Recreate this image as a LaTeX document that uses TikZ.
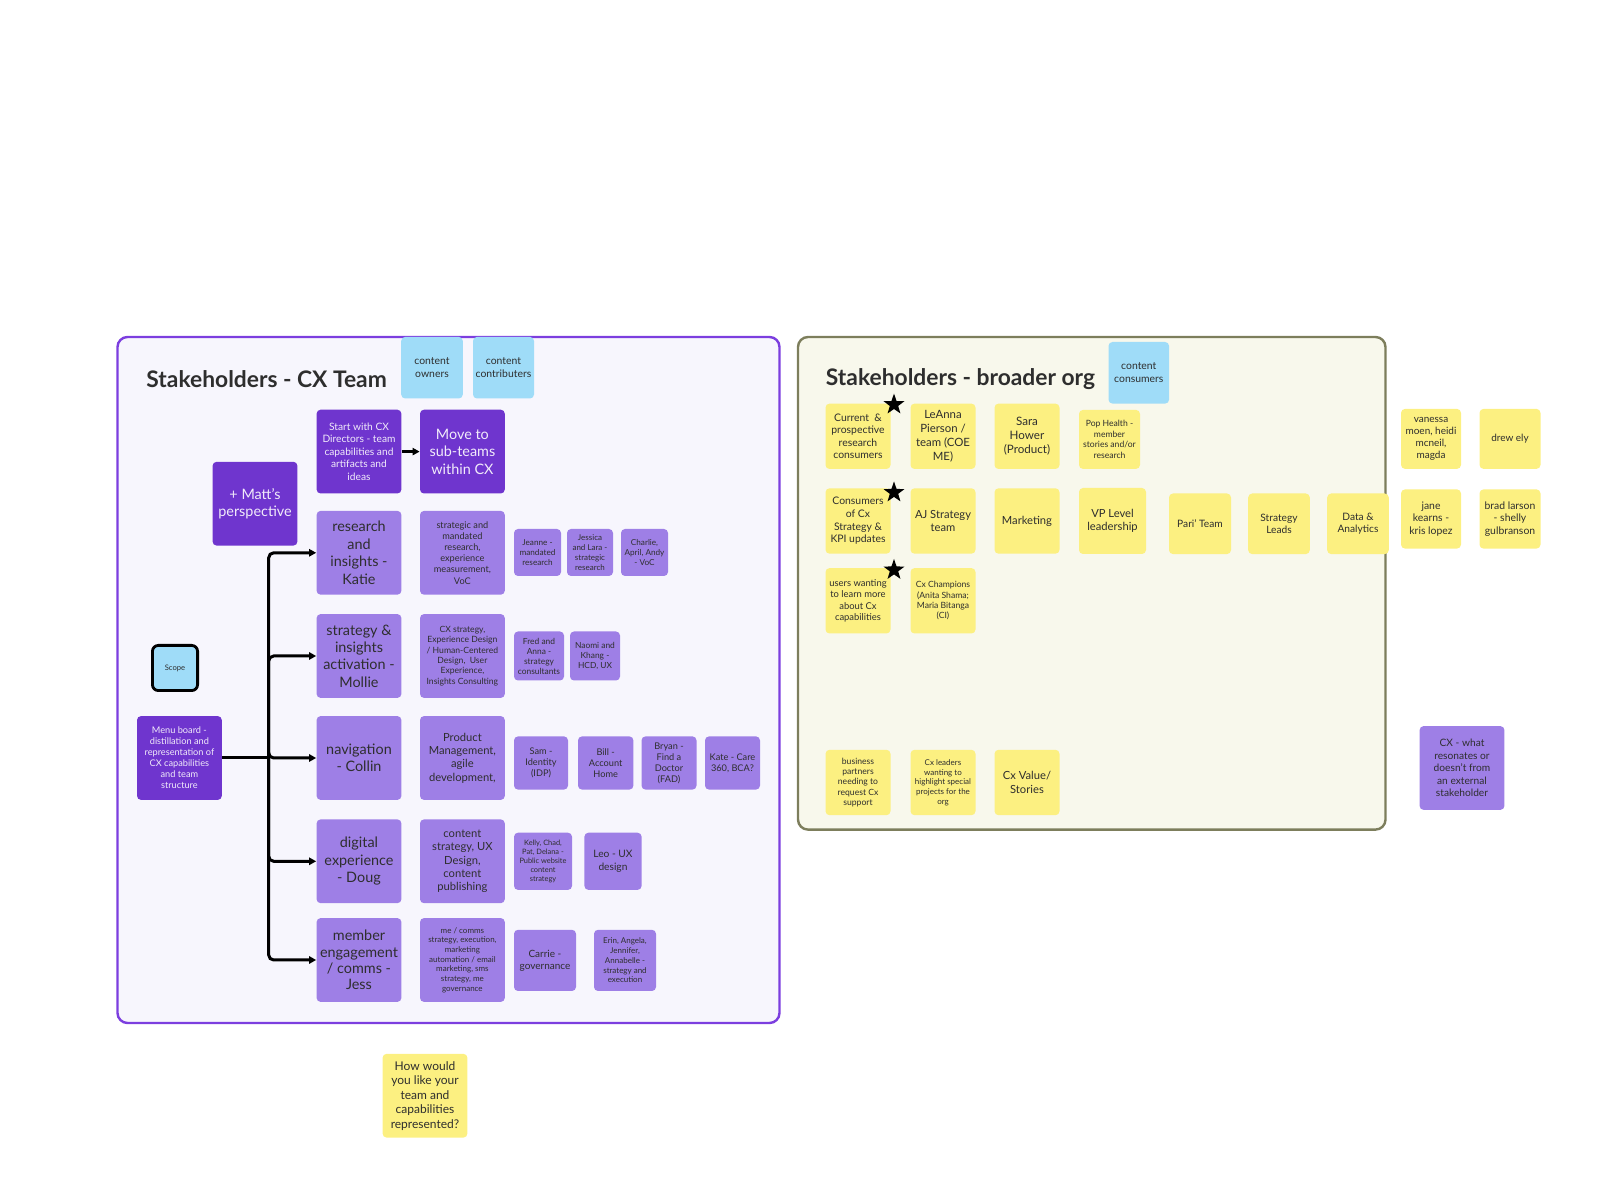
\documentclass[tikz,border=0pt]{standalone}
\usepackage{fontspec}
\setmainfont{Lato}
\usetikzlibrary{arrows.meta,shapes.geometric}

\definecolor{deep}{HTML}{6F35CE}
\definecolor{lilac}{HTML}{9E7FE6}
\definecolor{sky}{HTML}{9FDCF8}
\definecolor{sticky}{HTML}{FCF081}
\definecolor{ink}{HTML}{2E2E2E}
\definecolor{teamline}{HTML}{7C3EDF}
\definecolor{teamfill}{HTML}{F7F6FD}
\definecolor{orgline}{HTML}{7D7E5C}
\definecolor{orgfill}{HTML}{F8F8EC}

\begin{document}
\begin{tikzpicture}[x=0.5pt,y=-0.5pt,
 note/.style={rounded corners=2pt,inner sep=1pt,align=center,text=ink},
 fs/.style 2 args={font=\fontsize{#1}{#2}\selectfont},
 wh/.style 2 args={minimum width=#1pt,minimum height=#2pt},
 dk/.style={note,fill=deep,text=white!90!deep},
 lt/.style={note,fill=lilac},
 bl/.style={note,fill=sky},
 yl/.style={note,fill=sticky},
 big/.style={wh={42.4}{41.9}},
 sticker/.style={wh={32.5}{32.7}},
 title/.style={anchor=west,inner sep=0pt,text=ink,font=\bfseries\fontsize{11.4}{13}\selectfont},
 wire/.style={line width=1.5pt,black},
 tip/.style={-{Triangle[length=3.5pt,width=3.6pt]}},
 starmark/.style={star,star points=5,star point ratio=2.5,fill=black,inner sep=0pt,minimum size=11pt}
]
\useasboundingbox (0,0) rectangle (1602,1202);

% frames
\draw[teamline,fill=teamfill,line width=1.2pt,rounded corners=5pt] (117.5,337) rectangle (779.5,1023);
\draw[orgline,fill=orgfill,line width=1.2pt,rounded corners=5pt] (798,337) rectangle (1385.5,829.6);
\node[title] (teamtitle) at (146,379) {Stakeholders - CX Team};
\node[title] (orgtitle) at (825.5,379) {Stakeholders - broader org};

% CX team board
\node[bl,wh={30.8}{30.8},fs={5.2}{6.3}] (owners) at (432,367.7) {content\\owners};
\node[bl,wh={30.5}{30.8},fs={5.2}{6.3}] (contrib) at (503.5,367.7) {content\\contributers};
\node[dk,big,fs={5.1}{6.2}] (start) at (359,451.6) {Start with CX\\Directors - team\\capabilities and\\artifacts and\\ideas};
\node[dk,big,fs={7.2}{8.7}] (move) at (462.4,451.6) {Move to\\sub-teams\\within CX};
\node[dk,big,fs={7.2}{8.4}] (matt) at (255,503.7) {+ Matt's\\perspective};

\node[lt,big,fs={7.2}{8.7}] (katie) at (359,552.8) {research\\and\\insights -\\Katie};
\node[lt,big,fs={4.6}{5.6}] (research) at (462.4,552.8) {strategic and\\mandated\\research,\\experience\\measurement,\\VoC};
\node[lt,wh={23.5}{23.5},fs={4.1}{5}] (jeanne) at (537.5,552.5) {Jeanne -\\mandated\\research};
\node[lt,wh={23}{23.5},fs={4}{4.9}] (jessica) at (590,552.5) {Jessica\\and Lara -\\strategic\\research};
\node[lt,wh={23.5}{23.5},fs={4.1}{5}] (charlie) at (644.5,552.5) {Charlie,\\April, Andy\\- VoC};

\node[lt,big,fs={7.2}{8.7}] (mollie) at (359,656) {strategy \&\\insights\\activation -\\Mollie};
\node[lt,big,fs={4.3}{5.2}] (cxstrat) at (462.4,656) {CX strategy,\\Experience Design\\/ Human-Centered\\Design,~ User\\Experience,\\Insights Consulting};
\node[lt,wh={25}{24.5},fs={4.2}{5}] (fred) at (539,656) {Fred and\\Anna -\\strategy\\consultants};
\node[lt,wh={25}{24.5},fs={4.2}{5}] (naomi) at (595,656) {Naomi and\\Khang -\\HCD, UX};

\node[lt,big,fs={7.2}{8.7}] (collin) at (359,758) {navigation\\- Collin};
\node[lt,big,fs={5.6}{6.7}] (product) at (462.4,758) {Product\\Management,\\agile\\development,};
\node[lt,wh={27}{26.6},fs={4.6}{5.5}] (sam) at (541,763) {Sam -\\Identity\\(IDP)};
\node[lt,wh={27.7}{26.6},fs={4.6}{5.5}] (bill) at (605.7,763) {Bill -\\Account\\Home};
\node[lt,wh={27.5}{26.6},fs={4.6}{5.5}] (bryan) at (669,763) {Bryan -\\Find a\\Doctor\\(FAD)};
\node[lt,wh={27.5}{26.6},fs={4.6}{5.5}] (kate) at (732.5,763) {Kate - Care\\360, BCA?};

\node[lt,big,fs={7.2}{8.7}] (doug) at (359,861.3) {digital\\experience\\- Doug};
\node[lt,big,fs={5.6}{6.7}] (content) at (462.4,861.3) {content\\strategy, UX\\Design,\\content\\publishing};
\node[lt,wh={29}{28.6},fs={3.7}{4.5}] (kelly) at (543,861.3) {Kelly, Chad,\\Pat, Delana -\\Public website\\content\\strategy};
\node[lt,wh={28.6}{28.6},fs={5.1}{6.2}] (leo) at (613,861.3) {Leo - UX\\design};

\node[lt,big,fs={7.2}{8.2}] (jess) at (359,960) {member\\engagement\\/ comms -\\Jess};
\node[lt,big,fs={4}{4.85}] (comms) at (462.4,960) {me / comms\\strategy, execution,\\marketing\\automation / email\\marketing, sms\\strategy, me\\governance};
\node[lt,wh={31}{30.6},fs={5}{6}] (carrie) at (545,960.4) {Carrie -\\governance};
\node[lt,wh={31}{30.6},fs={4}{4.85}] (erin) at (625,960.4) {Erin, Angela,\\Jennifer,\\Annabelle -\\strategy and\\execution};

\node[bl,draw=black,line width=1.4pt,rounded corners=3pt,wh={22.6}{22.6},fs={3.8}{4.5}] (scope) at (175,668) {Scope};
\node[dk,big,fs={4.6}{5.5}] (menu) at (179.4,758) {Menu board -\\distillation and\\representation of\\CX capabilities\\and team\\structure};

% connectors
\coordinate (fork) at (268.7,758);
\draw[wire] (menu.east) -- (fork);
\foreach \team in {katie,mollie,collin,doug,jess}
  \draw[wire,tip,rounded corners=2.5pt] (fork) |- (\team.west);
\draw[wire,tip] (start) -- (move);

% broader org board
\node[bl,wh={30.3}{30.8},fs={5.2}{6.3}] (consume) at (1138.8,372.8) {content\\consumers};
\node[yl,sticker,fs={5.2}{6.3}] (current) at (858,436.3) {Current~ \&\\prospective\\research\\consumers};
\node[yl,sticker,fs={5.7}{6.85}] (leanna) at (943,436.3) {LeAnna\\Pierson /\\team (COE\\ME)};
\node[yl,sticker,fs={5.8}{7}] (sara) at (1027,436.3) {Sara\\Hower\\(Product)};
\node[yl,wh={30.5}{29.5},fs={4.3}{5.2}] (pop) at (1109.5,439.4) {Pop Health -\\member\\stories and/or\\research};

\node[yl,sticker,fs={5.2}{6.3}] (kpi) at (858,521) {Consumers\\of Cx\\Strategy \&\\KPI updates};
\node[yl,sticker,fs={5.6}{6.7}] (aj) at (943,521) {AJ Strategy\\team};
\node[yl,sticker,fs={5.6}{6.7}] (marketing) at (1027,521) {Marketing};
\node[yl,wh={33.5}{33},fs={5.6}{6.7}] (vp) at (1112.5,521) {VP Level\\leadership};
\node[yl,wh={31}{30.3},fs={5.1}{6.2}] (pari) at (1200,523.8) {Pari' Team};
\node[yl,wh={30.8}{30.3},fs={5.1}{6.2}] (leads) at (1279,523.8) {Strategy\\Leads};
\node[yl,wh={30.8}{30.3},fs={5.1}{6.2}] (data) at (1358,523.8) {Data \&\\Analytics};

\node[yl,sticker,fs={4.7}{5.7}] (learners) at (858,600.8) {users wanting\\to learn more\\about Cx\\capabilities};
\node[yl,sticker,fs={4.3}{5.2}] (champions) at (943,600.8) {Cx Champions\\(Anita Shama;\\Maria Bitanga\\(CI)};

\node[yl,sticker,fs={4.3}{5.2}] (partners) at (858,782.5) {business\\partners\\needing to\\request Cx\\support};
\node[yl,sticker,fs={4}{4.85}] (leaders) at (943,782.5) {Cx leaders\\wanting to\\highlight special\\projects for the\\org};
\node[yl,sticker,fs={5.6}{6.7}] (value) at (1027,782.5) {Cx Value/\\Stories};

\node[starmark] (star1) at (894,404.6) {};
\node[starmark] (star2) at (894,492.5) {};
\node[starmark] (star3) at (894,570) {};

% outside the frames
\node[yl,wh={30}{30},fs={5}{6}] (vanessa) at (1431,438.9) {vanessa\\moen, heidi\\mcneil,\\magda};
\node[yl,wh={30.5}{30},fs={5}{6}] (drew) at (1510,438.9) {drew ely};
\node[yl,wh={30}{29.6},fs={5.2}{6.3}] (jane) at (1431,519) {jane\\kearns -\\kris lopez};
\node[yl,wh={30.5}{29.6},fs={5.2}{6.3}] (brad) at (1510,519) {brad larson\\- shelly\\gulbranson};
\node[lt,big,fs={5.1}{6.2}] (resonate) at (1462,768) {CX - what\\resonates or\\doesn't from\\an external\\stakeholder};
\node[yl,big,fs={6}{7.25}] (question) at (425,1095.7) {How would\\you like your\\team and\\capabilities\\represented?};
\end{tikzpicture}
\end{document}
